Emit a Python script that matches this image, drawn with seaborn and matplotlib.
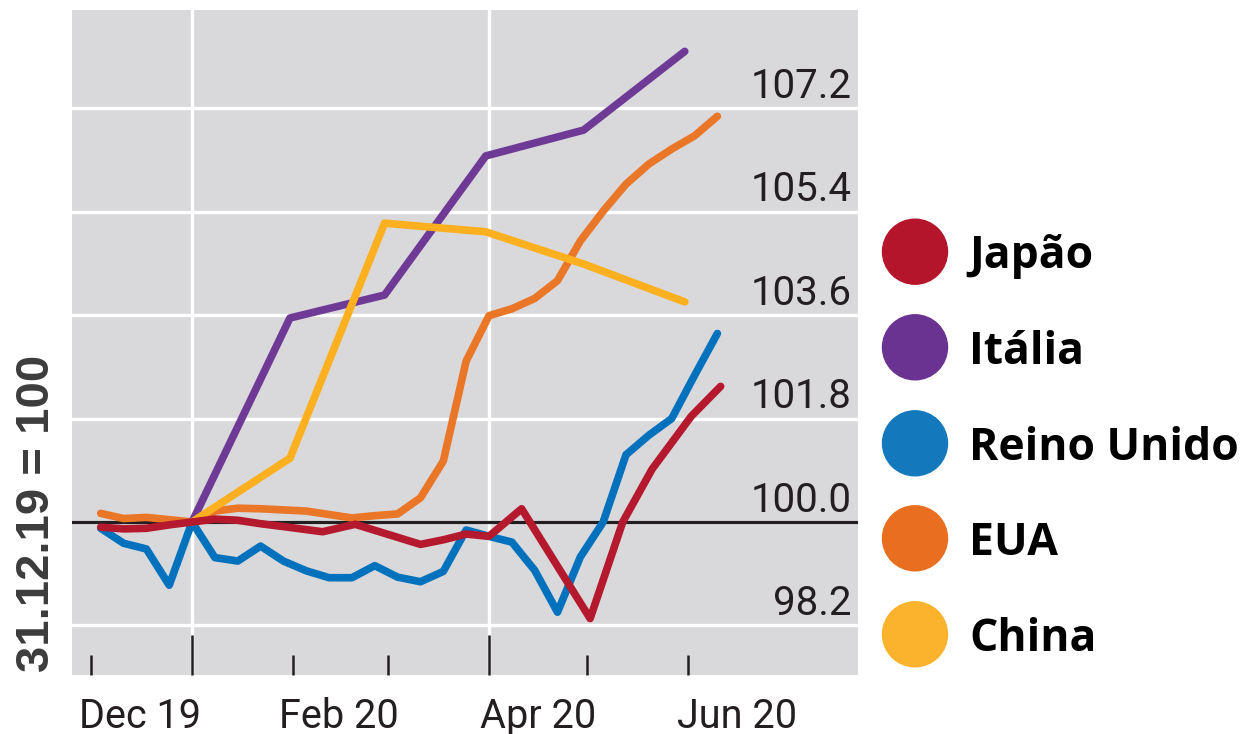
import matplotlib
matplotlib.use('Agg')
import matplotlib.pyplot as plt
from matplotlib.patches import Ellipse
import pandas as pd
import seaborn as sns

# -------------------------------------------------------------
# data (index, 31.12.19 = 100)
week_dates = ["2019-12-04", "2019-12-11", "2019-12-18", "2019-12-25", "2020-01-01",
              "2020-01-08", "2020-01-15", "2020-01-22", "2020-01-29", "2020-02-05",
              "2020-02-12", "2020-02-19", "2020-02-26", "2020-03-04", "2020-03-11",
              "2020-03-18", "2020-03-25", "2020-04-01", "2020-04-08", "2020-04-15",
              "2020-04-22", "2020-04-29", "2020-05-06", "2020-05-13", "2020-05-20",
              "2020-05-27", "2020-06-03", "2020-06-10"]
uk = [99.89, 99.63, 99.53, 98.90, 100.0, 99.38, 99.32, 99.58, 99.32, 99.15,
      99.03, 99.03, 99.24, 99.04, 98.96, 99.14, 99.86, 99.75, 99.65, 99.16,
      98.43, 99.39, 100.0, 101.17, 101.51, 101.80, 102.55, 103.28]
usa = [100.15, 100.06, 100.08, 100.04, 100.0, 100.19, 100.24, 100.23, 100.21, 100.19,
       100.13, 100.07, 100.11, 100.14, 100.42, 101.06, 102.80, 103.59, 103.71, 103.89,
       104.20, 104.89, 105.41, 105.88, 106.23, 106.49, 106.72, 107.06]

japan_dates = ["2019-12-04", "2019-12-11", "2019-12-18", "2019-12-25", "2020-01-01",
               "2020-01-08", "2020-01-15", "2020-01-22", "2020-01-29", "2020-02-10",
               "2020-02-20", "2020-03-11", "2020-03-18", "2020-03-25", "2020-04-01",
               "2020-04-11", "2020-05-02", "2020-05-12", "2020-05-21", "2020-06-02",
               "2020-06-11"]
japan = [99.91, 99.88, 99.89, 99.95, 100.0, 100.05, 100.03, 99.97, 99.92, 99.83,
         99.96, 99.61, 99.69, 99.79, 99.75, 100.23, 98.32, 100.0, 100.92, 101.84,
         102.36]

month_dates = ["2020-01-01", "2020-01-31", "2020-02-29", "2020-03-31", "2020-04-30", "2020-05-31"]
italy = [100.0, 103.55, 103.95, 106.37, 106.82, 108.19]
china = [100.0, 101.11, 105.20, 105.05, 104.49, 103.83]

countries = ["Japão", "Itália", "Reino Unido", "EUA", "China"]
line_colors = ["#b5192e", "#6f3a96", "#0071bc", "#ea7628", "#fdb01f"]
dot_colors = ["#b5152b", "#6a3391", "#1479bc", "#e86e20", "#fbb22c"]

y_levels = [98.2, 100.0, 101.8, 103.6, 105.4, 107.2]
month_ticks = ["2019-12-01", "2020-02-01", "2020-03-01", "2020-05-01", "2020-06-01"]
quarter_ticks = ["2020-01-01", "2020-04-01"]
x_label_pos = ["2019-12-16", "2020-02-15", "2020-04-16", "2020-06-16"]
x_labels = ["Dec 19", "Feb 20", "Apr 20", "Jun 20"]

# -------------------------------------------------------------
# long table for seaborn
series = {
    "Japão": (japan_dates, japan),
    "Itália": (month_dates, italy),
    "Reino Unido": (week_dates, uk),
    "EUA": (week_dates, usa),
    "China": (month_dates, china),
}
frames = []
for name, (d, v) in series.items():
    frames.append(pd.DataFrame({"date": pd.to_datetime(d), "value": v, "country": name}))
df = pd.concat(frames, ignore_index=True)

# -------------------------------------------------------------
sns.set_style("darkgrid", {"axes.facecolor": "#d9d9db", "grid.color": "white"})
plt.rcParams['font.family'] = ['Roboto', 'DejaVu Sans']

fig = plt.figure(figsize=(12.48, 7.34), dpi=100)
ax = fig.add_axes([72 / 1248, 59 / 734, 786 / 1248, 665 / 734])

ax.axhline(100, color="#231f20", lw=2.3, zorder=1.5)

draw_order = ["EUA", "Reino Unido", "Itália", "China", "Japão"]
palette = dict(zip(countries, line_colors))
sns.lineplot(data=df, x="date", y="value", hue="country", hue_order=draw_order,
             palette=palette, legend=False, ax=ax)
# make the lines heavy with round ends like the original
for ln in ax.get_lines()[1:]:
    ln.set_linewidth(5.5)
    ln.set_solid_capstyle("round")
    ln.set_solid_joinstyle("round")

ax.set_xlim(pd.Timestamp("2019-12-01") - pd.Timedelta(days=5.8),
            pd.Timestamp("2019-12-01") + pd.Timedelta(days=235.1))
ax.set_ylim(97.337, 108.91)

for s in ax.spines.values():
    s.set_visible(False)

ax.set_yticks(y_levels)
ax.tick_params(axis="y", length=0, labelleft=False)
ax.set_xticks(pd.to_datetime(quarter_ticks))
ax.set_xticks(pd.to_datetime(month_ticks), minor=True)
ax.grid(False)
ax.yaxis.grid(True, color="white", lw=2.4)
ax.xaxis.grid(True, which="major", color="white", lw=2.4)
ax.tick_params(axis="x", which="major", direction="in", length=29, width=1.8,
               color="#231f20", bottom=True, labelbottom=False)
ax.tick_params(axis="x", which="minor", direction="in", length=14.5, width=1.8,
               color="#231f20", bottom=True, labelbottom=False)
ax.set_xlabel("")
ax.set_ylabel("")

# y labels sit inside the plot, right aligned above each line
for v in y_levels:
    ax.annotate(f"{v:.1f}", xy=(1, v), xycoords=("axes fraction", "data"),
                xytext=(-4.5, 7.5), textcoords="offset points",
                ha="right", va="baseline", fontsize=29, color="#231f20")

# month labels under the axis
for d, lab in zip(x_label_pos, x_labels):
    ax.text(pd.Timestamp(d), -0.079, lab, transform=ax.get_xaxis_transform(),
            ha="center", va="baseline", fontsize=28.5, color="#231f20")

fig.text(37 / 1248, 1 - 513 / 734, "31.12.19 = 100", rotation=90, ha="center",
         va="center", fontsize=34, fontweight="bold", color="#3c3c3c",
         family=["Liberation Sans", "DejaVu Sans"])

# legend: coloured dots and bold names
dot_y = [251.7, 347.3, 443.3, 538.3, 634.3]
for name, c, yy in zip(countries, dot_colors, dot_y):
    fig.add_artist(Ellipse((915 / 1248, 1 - yy / 734), 65 / 1248, 65 / 734,
                           color=c, transform=fig.transFigure))
    fig.text(969 / 1248, 1 - (yy + 16.5) / 734, name, ha="left", va="baseline",
             fontsize=32, fontweight="bold", color="black",
             family=["Open Sans", "DejaVu Sans"])

fig.savefig("out.png", dpi=100)
